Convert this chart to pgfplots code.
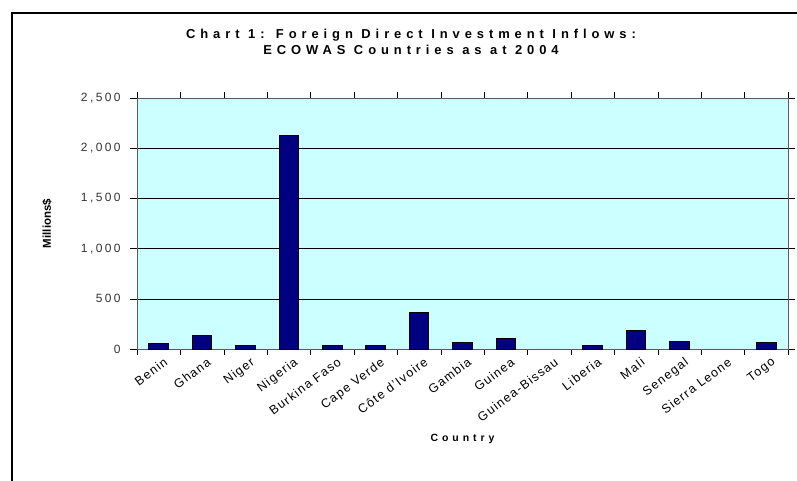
\documentclass[border=0pt]{standalone}
\usepackage{fontspec}
\setmainfont{Liberation Sans}
\usepackage{pgfplots}
\pgfplotsset{compat=1.18}
\definecolor{bgcyan}{HTML}{CCFFFF}
\definecolor{navybar}{HTML}{000080}
\begin{document}
\begin{tikzpicture}
\path[use as bounding box] (0bp,0bp) rectangle (797bp,481bp);
\draw[line width=2bp] (12bp,0bp) -- (12bp,468bp) -- (797bp,468bp);
\node[anchor=base, inner sep=0pt, font=\fontsize{13}{15}\selectfont\bfseries\addfontfeature{LetterSpace=38}] at (411bp,442bp) {Chart 1: Foreign Direct Investment Inflows:};
\node[anchor=base, inner sep=0pt, font=\fontsize{13}{15}\selectfont\bfseries\addfontfeature{LetterSpace=38}] at (411bp,426bp) {ECOWAS Countries as at 2004};
\begin{axis}[
  at={(137bp,132bp)}, anchor=south west,
  scale only axis, width=651bp, height=251bp,
  xmin=-0.5, xmax=14.5, ymin=0, ymax=2500,
  axis background/.style={fill=bgcyan},
  axis line style={draw=gray!70!black, line width=1bp},
  ytick={0,500,...,2500},
  ymajorgrids, grid style={black, line width=0.6bp},
  tick align=outside,
  major tick length=7bp,
  ytick style={black, line width=0.6bp},
  xtick={0,...,14},
  xticklabels={Benin,Ghana,Niger,Nigeria,Burkina Faso,Cape Verde,Côte d'Ivoire,Gambia,Guinea,Guinea-Bissau,Liberia,Mali,Senegal,Sierra Leone,Togo},
  major x tick style={draw=none},
  minor xtick={-0.5,0.5,...,14.5},
  minor x tick style={draw=black, line width=0.6bp},
  minor tick length=6bp,
  xticklabel style={rotate=37, anchor=north east, inner sep=1bp, font=\fontsize{12.5}{14}\selectfont\addfontfeature{LetterSpace=10}, xshift=4bp, yshift=-2bp},
  yticklabel style={font=\fontsize{12}{14}\selectfont\addfontfeature{LetterSpace=20}, text=black!80, xshift=-6bp},
  /pgf/number format/assume math mode=true,
  /pgf/number format/1000 sep={,},
  scaled y ticks=false,
  ylabel={Millions\$}, ylabel style={font=\fontsize{11.5}{13}\selectfont\bfseries, at={(axis description cs:0,0.5)}, anchor=center, yshift=90bp},
  xlabel={Country}, xlabel style={font=\fontsize{10.5}{12}\selectfont\bfseries\addfontfeature{LetterSpace=38}, at={(axis description cs:0.5,0)}, anchor=base, yshift=-92bp},
  clip=false,
]
\addplot[ybar, bar width=0.45, fill=navybar, draw=black, line width=1bp] coordinates {
 (0,55) (1,139) (2,30) (3,2127) (4,34) (5,30) (6,360) (7,60) (8,100) (10,30) (11,180) (12,70) (14,60)
};
\end{axis}
\end{tikzpicture}
\end{document}
